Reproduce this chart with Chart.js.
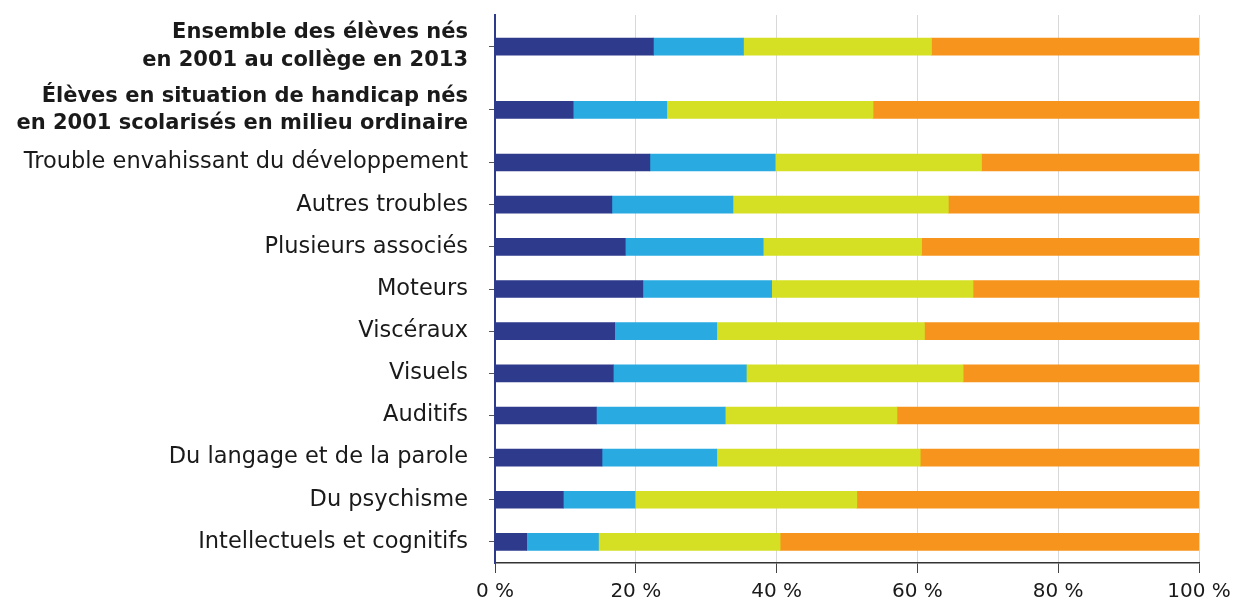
<!DOCTYPE html>
<html lang="fr">
<head>
    <meta charset="UTF-8">
    <title>Élèves en situation de handicap</title>
    <script src="https://cdn.jsdelivr.net/npm/chart.js"></script>
    <style>
        body {
            margin: 0;
            background: #fff;
        }
        .chart-box {
            width: 1236px;
            height: 611px;
        }
    </style>
</head>
<body>
    <div class="chart-box">
        <canvas id="chart" width="1236" height="611"></canvas>
    </div>

    <script>
        // Catégories (les deux premières sont en gras, sur deux lignes)
        const categories = [
            ['Ensemble des élèves nés', 'en 2001 au collège en 2013'],
            ['Élèves en situation de handicap nés', 'en 2001 scolarisés en milieu ordinaire'],
            'Trouble envahissant du développement',
            'Autres troubles',
            'Plusieurs associés',
            'Moteurs',
            'Viscéraux',
            'Visuels',
            'Auditifs',
            'Du langage et de la parole',
            'Du psychisme',
            'Intellectuels et cognitifs'
        ];

        // Parts en %
        const serie1 = [22.5, 11.1, 22.0, 16.6, 18.5, 21.0, 17.0, 16.8, 14.4, 15.2, 9.7, 4.5];
        const serie2 = [12.8, 13.3, 17.8, 17.2, 19.6, 18.3, 14.5, 18.9, 18.3, 16.3, 10.2, 10.2];
        const serie3 = [26.7, 29.3, 29.3, 30.6, 22.5, 28.6, 29.5, 30.8, 24.4, 28.9, 31.5, 25.8];
        const serie4 = [38.0, 46.3, 30.9, 35.6, 39.4, 32.1, 39.0, 33.5, 42.9, 39.6, 48.6, 59.5];

        const xTicks = [0, 20, 40, 60, 80, 100];

        const colors = ['#2e3a8c', '#29abe2', '#d5df24', '#f7941d'];
        const fontFamily = '"DejaVu Sans", sans-serif';

        // les libellés sur deux lignes prennent une ligne et demie de hauteur
        const rowSpan = categories.map(c => Array.isArray(c) ? 1.5 : 1);
        const rowCenter = [];
        const rowEdges = [0];
        let acc = 0;
        rowSpan.forEach(s => {
            rowCenter.push(acc + s / 2);
            acc += s;
            rowEdges.push(acc);
        });
        const rowTotal = acc;

        const ctx = document.getElementById('chart').getContext('2d');

        new Chart(ctx, {
            type: 'bar',
            data: {
                datasets: [serie1, serie2, serie3, serie4].map((values, i) => ({
                    label: 'Série ' + (i + 1),
                    data: values.map((v, j) => ({ x: v, y: rowCenter[j] })),
                    backgroundColor: colors[i],
                    borderWidth: 0,
                    barThickness: 17,
                    yAxisID: 'y'
                }))
            },
            options: {
                indexAxis: 'y',
                responsive: false,
                animation: false,
                layout: {
                    padding: { top: 15, right: 37, left: 0, bottom: 0 }
                },
                plugins: {
                    legend: { display: false },
                    tooltip: { enabled: false }
                },
                scales: {
                    x: {
                        stacked: true,
                        min: 0,
                        max: 100,
                        afterBuildTicks: (scale) => {
                            scale.ticks = xTicks.map(v => ({ value: v }));
                        },
                        ticks: {
                            callback: (v) => v + ' %',
                            color: '#1a1a1a',
                            font: { family: fontFamily, size: 20 },
                            padding: 7,
                            maxRotation: 0
                        },
                        grid: {
                            color: '#d8d8d8',
                            lineWidth: 1,
                            tickColor: '#444',
                            tickLength: 10
                        },
                        border: { color: '#333', width: 1.5 },
                        afterFit: (scale) => {
                            scale.height = 48;
                            scale.paddingLeft = 0;
                            scale.paddingRight = 0;
                        }
                    },
                    y: {
                        type: 'linear',
                        stacked: true,
                        reverse: true,
                        offset: false,
                        min: 0,
                        max: rowTotal,
                        weight: 1,
                        afterBuildTicks: (scale) => {
                            scale.ticks = rowCenter.map(v => ({ value: v }));
                        },
                        ticks: {
                            autoSkip: false,
                            color: '#1a1a1a',
                            padding: 12,
                            callback: (v, i) => categories[i],
                            font: (c) => ({
                                family: fontFamily,
                                size: c.index < 2 ? 21 : 22.5,
                                weight: c.index < 2 ? 'bold' : 'normal',
                                lineHeight: 1.3
                            })
                        },
                        grid: { display: false },
                        border: { display: false },
                        afterFit: (scale) => {
                            scale.width = 488;
                            scale.paddingTop = 0;
                            scale.paddingBottom = 0;
                        }
                    },
                    yEdges: {
                        type: 'linear',
                        position: 'left',
                        reverse: true,
                        offset: false,
                        min: 0,
                        max: rowTotal,
                        weight: 0,
                        afterBuildTicks: (scale) => {
                            scale.ticks = rowEdges.map(v => ({ value: v }));
                        },
                        ticks: { display: false },
                        grid: {
                            drawOnChartArea: false,
                            tickColor: '#555',
                            tickLength: 6
                        },
                        border: { color: '#2e3a8c', width: 2 },
                        afterFit: (scale) => {
                            scale.width = 7;
                            scale.paddingTop = 0;
                            scale.paddingBottom = 0;
                        }
                    }
                }
            }
        });
    </script>
</body>
</html>
